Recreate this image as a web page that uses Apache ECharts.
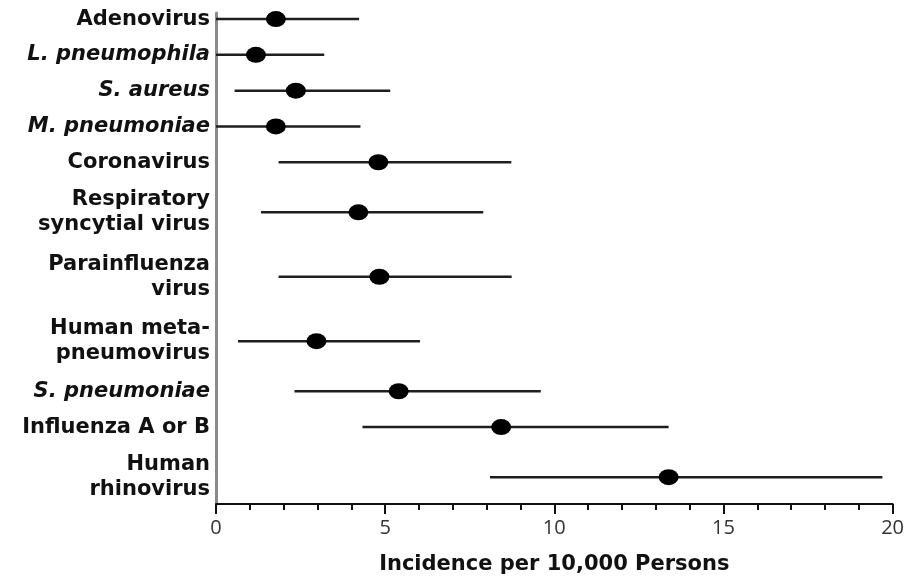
<!DOCTYPE html>
<html>
<head>
<meta charset="utf-8">
<script src="https://cdn.jsdelivr.net/npm/echarts@6.0.0/dist/echarts.min.js"></script>
<style>
html,body{margin:0;padding:0;background:#fff;}
#chart{width:907px;height:580px;}
</style>
</head>
<body>
<div id="chart"></div>
<script>
//分类名称（两行的用\n分开）
var categories = ['Adenovirus', 'L. pneumophila', 'S. aureus', 'M. pneumoniae', 'Coronavirus',
	'Respiratory\nsyncytial virus', 'Parainfluenza\nvirus', 'Human meta-\npneumovirus',
	'S. pneumoniae', 'Influenza A or B', 'Human\nrhinovirus'];
//斜体的菌名
var italicNames = ['L. pneumophila', 'S. aureus', 'M. pneumoniae', 'S. pneumoniae'];
//发病率及置信区间
var incidence = [1.77, 1.18, 2.36, 1.77, 4.8, 4.21, 4.83, 2.97, 5.4, 8.43, 13.38];
var ciLow = [0, 0, 0.55, 0, 1.85, 1.33, 1.85, 0.65, 2.32, 4.33, 8.1];
var ciHigh = [4.23, 3.2, 5.15, 4.27, 8.73, 7.9, 8.74, 6.03, 9.6, 13.38, 19.7];
//x轴刻度
var xTicks = [0, 5, 10, 15, 20];
var xAxisName = 'Incidence per 10,000 Persons';

var FONT = '"DejaVu Sans", sans-serif';

//行位置：两行标签的行高一些
function rowPositions(){
	var pos = [], y = 0, prevH = 0;
	for(var i = 0; i < categories.length; i++){
		var h = categories[i].split('\n').length > 1 ? 1.8 : 1;
		if(i > 0){
			y += (prevH + h) / 2;
		}
		pos.push(y);
		prevH = h;
	}
	return pos;
}
var rowPos = rowPositions();

function rowIndex(val){
	var best = 0;
	for(var i = 0; i < rowPos.length; i++){
		if(Math.abs(rowPos[i] - val) < Math.abs(rowPos[best] - val)) best = i;
	}
	return best;
}

var ciData = [], pointData = [];
for(var i = 0; i < categories.length; i++){
	ciData.push([ciLow[i], ciHigh[i], rowPos[i]]);
	pointData.push([incidence[i], rowPos[i]]);
}

var chart = echarts.init(document.getElementById('chart'));
var option = {
	backgroundColor: '#ffffff',
	animation: false,
	grid: {
		left: 216,
		right: 14,
		top: 13,
		bottom: 73
	},
	xAxis: {
		type: 'value',
		min: xTicks[0],
		max: xTicks[xTicks.length - 1],
		interval: xTicks[1] - xTicks[0],
		name: xAxisName,
		nameLocation: 'middle',
		nameGap: 50,
		nameTextStyle: {
			fontFamily: FONT,
			fontWeight: 'bold',
			fontSize: 21,
			color: '#111'
		},
		axisLine: {
			onZero: false,
			lineStyle: {color: '#111', width: 2}
		},
		axisTick: {
			show: true,
			length: 10,
			lineStyle: {color: '#111', width: 2}
		},
		minorTick: {
			show: true,
			splitNumber: 5,
			length: 6,
			lineStyle: {color: '#111', width: 2}
		},
		axisLabel: {
			margin: 14,
			fontFamily: '"Open Sans", sans-serif',
			fontSize: 20,
			color: '#333'
		},
		splitLine: {show: false},
		minorSplitLine: {show: false}
	},
	yAxis: {
		type: 'value',
		inverse: true,
		min: rowPos[0] - 0.17,
		max: rowPos[rowPos.length - 1] + 0.75,
		axisLine: {
			show: true,
			onZero: false,
			lineStyle: {color: '#8a8a8a', width: 3}
		},
		axisTick: {show: false},
		splitLine: {show: false},
		axisLabel: {
			customValues: rowPos,
			margin: 6,
			align: 'right',
			fontFamily: FONT,
			fontWeight: 'bold',
			fontSize: 21,
			lineHeight: 25,
			color: '#111',
			formatter: function(val){
				var name = categories[rowIndex(val)];
				if(italicNames.indexOf(name) > -1){
					return '{it|' + name + '}';
				}
				return name;
			},
			rich: {
				it: {
					fontFamily: FONT,
					fontWeight: 'bold',
					fontStyle: 'italic',
					fontSize: 21,
					lineHeight: 25,
					color: '#111'
				}
			}
		}
	},
	series: [
		{
			//置信区间横线
			type: 'custom',
			name: 'CI',
			data: ciData,
			encode: {x: [0, 1], y: 2},
			renderItem: function(params, api){
				var lo = api.coord([api.value(0), api.value(2)]);
				var hi = api.coord([api.value(1), api.value(2)]);
				return {
					type: 'line',
					shape: {x1: lo[0], y1: lo[1], x2: hi[0], y2: hi[1]},
					style: {stroke: '#1e1e1e', lineWidth: 2.5}
				};
			},
			z: 2
		},
		{
			type: 'scatter',
			name: 'Incidence',
			data: pointData,
			symbol: 'circle',
			symbolSize: [20, 16],
			itemStyle: {color: '#000', opacity: 1},
			z: 3
		}
	]
};
chart.setOption(option);
</script>
</body>
</html>
